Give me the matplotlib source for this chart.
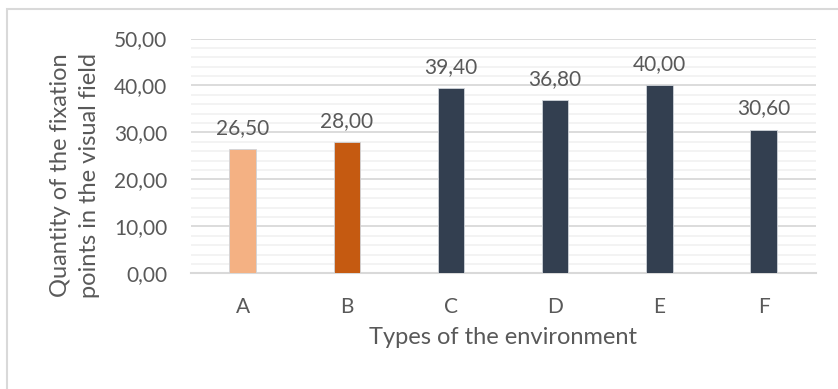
import matplotlib.pyplot as plt
from matplotlib.patches import Rectangle
from matplotlib.ticker import MultipleLocator, FuncFormatter

plt.rcParams['font.family'] = ['Lato', 'DejaVu Sans']

categories = ['A', 'B', 'C', 'D', 'E', 'F']
values = [26.50, 28.00, 39.40, 36.80, 40.00, 30.60]
colors = ['#F4B183', '#C55A11', '#333F50', '#333F50', '#333F50', '#333F50']

text_col = '#595959'

fig = plt.figure(figsize=(8.38, 3.89), dpi=100)
ax = fig.add_axes([0.2275, 0.2974, 0.7458, 0.6036])

x = range(len(categories))
bars = ax.bar(x, values, width=0.255, color=colors, edgecolor='#D0D4DA',
              linewidth=0.6, zorder=3)

def comma(v, pos=None):
    return f'{v:.2f}'.replace('.', ',')

for b, v in zip(bars, values):
    ax.annotate(comma(v), (b.get_x() + b.get_width() / 2, v),
                xytext=(0, 8), textcoords='offset points',
                ha='center', va='bottom', fontsize=15, color=text_col)

ax.set_xlim(-0.5, len(categories) - 0.5)
ax.set_ylim(0, 50)
ax.yaxis.set_major_locator(MultipleLocator(10))
ax.yaxis.set_minor_locator(MultipleLocator(2))
ax.yaxis.set_major_formatter(FuncFormatter(comma))
ax.set_xticks(list(x))
ax.set_xticklabels(categories)

ax.grid(axis='y', which='major', color='#D9D9D9', linewidth=1.3, zorder=0)
ax.grid(axis='y', which='minor', color='#F2F2F2', linewidth=1.3, zorder=0)
ax.tick_params(axis='both', which='both', length=0, labelsize=15,
               labelcolor=text_col)
ax.tick_params(axis='y', pad=17)
ax.tick_params(axis='x', pad=17)

for side in ['top', 'right', 'left']:
    ax.spines[side].set_visible(False)
ax.spines['bottom'].set_color('#D9D9D9')
ax.spines['bottom'].set_linewidth(1.5)

ax.set_xlabel('Types of the environment', fontsize=17, color=text_col,
              labelpad=7)
fig.text(75 / 838, 1 - 175 / 389,
         'Quantity of the fixation\npoints in the visual field',
         rotation=90, ha='center', va='center', fontsize=17, color=text_col,
         multialignment='center', linespacing=1.45)

# chart frame
fig.patches.append(Rectangle((7 / 838, -0.1), 1.2, 1 - 9 / 389 + 0.1,
                             transform=fig.transFigure, fill=False,
                             edgecolor='#D9D9D9', linewidth=1.5))

fig.savefig('out.png', dpi=100)
